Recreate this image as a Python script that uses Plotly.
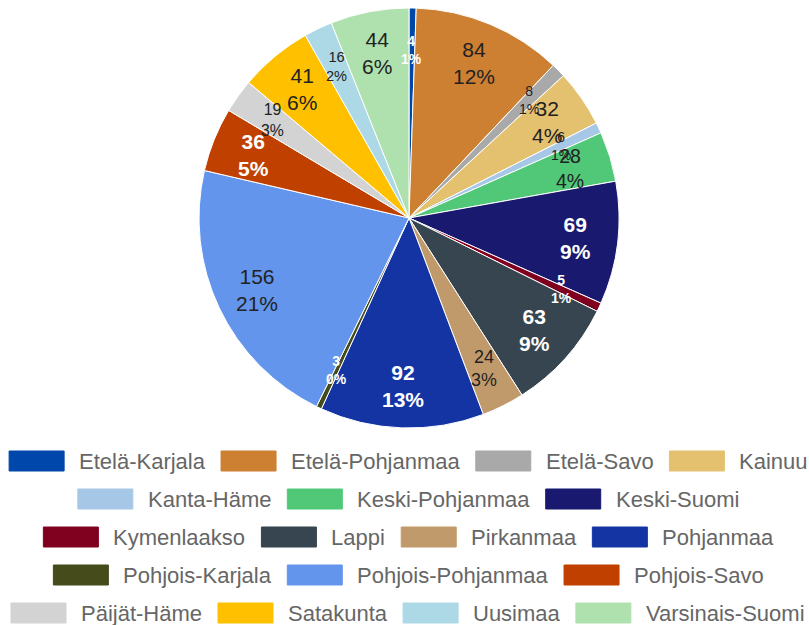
import math
import plotly.graph_objects as go

# ---------------- data ----------------
regions = ["Etelä-Karjala", "Etelä-Pohjanmaa", "Etelä-Savo", "Kainuu", "Kanta-Häme",
           "Keski-Pohjanmaa", "Keski-Suomi", "Kymenlaakso", "Lappi", "Pirkanmaa",
           "Pohjanmaa", "Pohjois-Karjala", "Pohjois-Pohjanmaa", "Pohjois-Savo",
           "Päijät-Häme", "Satakunta", "Uusimaa", "Varsinais-Suomi"]
values = [4, 84, 8, 32, 6, 28, 69, 5, 63, 24, 92, 3, 156, 36, 19, 41, 16, 44]
colors = ["#0047AB", "#CD7F32", "#A9A9A9", "#E4C16F", "#A7C7E7", "#50C878", "#191970",
          "#800020", "#36454F", "#C19A6B", "#1434A4", "#454B1B", "#6495ED", "#C04000",
          "#D3D3D3", "#FFC000", "#ADD8E6", "#AFE1AF"]

# ---------------- geometry ----------------
W, H = 809, 625
CX, CY, R = 409, 218, 210
LABEL_R = 0.8

fig = go.Figure(go.Pie(
    labels=regions, values=values, sort=False, direction="clockwise", rotation=0,
    marker=dict(colors=colors, line=dict(color="white", width=1)),
    textinfo="none", hoverinfo="label+value+percent", showlegend=False,
    domain=dict(x=[(CX - R) / W, (CX + R) / W], y=[1 - (CY + R) / H, 1 - (CY - R) / H]),
))


def is_dark(hexc):
    r, g, b = int(hexc[1:3], 16), int(hexc[3:5], 16), int(hexc[5:7], 16)
    return (0.299 * r + 0.587 * g + 0.114 * b) < 110


annotations = []
shapes = []
total = sum(values)
cum = 0
for name, v, c in zip(regions, values, colors):
    frac = v / total
    mid = (cum + v / 2) / total * 2 * math.pi
    cum += v
    px = CX + LABEL_R * R * math.sin(mid)
    py = CY - LABEL_R * R * math.cos(mid)
    size = max(14, min(21, 8 + 300 * frac))
    dark = is_dark(c)
    txt = f"{v}<br>{round(frac * 100)}%"
    if dark:
        txt = f"<b>{v}</b><br><b>{round(frac * 100)}%</b>"
    annotations.append(dict(
        x=px / W, y=1 - py / H, xref="paper", yref="paper", text=txt, showarrow=False,
        xanchor="center", yanchor="middle", align="center",
        font=dict(family="Arial, Liberation Sans", size=size, color="white" if dark else "#222"),
    ))

# ---------------- custom centered legend ----------------
AW = {' ': 278, '-': 333, 'E': 667, 'K': 667, 'S': 667, 'P': 667, 'L': 556, 'U': 722,
      'V': 667, 'H': 722, 'a': 556, 'e': 556, 'h': 556, 'i': 222, 'j': 222, 'k': 500,
      'l': 222, 'm': 833, 'n': 556, 'o': 556, 'p': 556, 'r': 333, 's': 500, 't': 278,
      'u': 556, 'v': 500, 'y': 500, 'ä': 556, 'ö': 556}
LFS = 22
BOX_W, BOX_H, GAP_T, GAP_I = 55, 20, 13, 18


def tw(s):
    return sum(AW.get(ch, 556) for ch in s) / 1000 * LFS


items = [(n, c, BOX_W + GAP_T + tw(n)) for n, c in zip(regions, colors)]
rows, cur, cw = [], [], 0
for it in items:
    add = it[2] + (GAP_I if cur else 0)
    if cur and cw + add > 800:
        rows.append(cur)
        cur, cw = [], 0
        add = it[2]
    cur.append(it)
    cw += add
if cur:
    rows.append(cur)

ROW0, ROWSTEP = 461, 38
for ri, row in enumerate(rows):
    rw = sum(it[2] for it in row) + GAP_I * (len(row) - 1)
    x = (W - rw) / 2 + 3
    yc = ROW0 + ri * ROWSTEP
    for n, c, w in row:
        shapes.append(dict(type="rect", xref="paper", yref="paper",
                           x0=x / W, x1=(x + BOX_W) / W,
                           y0=1 - (yc + BOX_H / 2) / H, y1=1 - (yc - BOX_H / 2) / H,
                           fillcolor=c, line=dict(color=c, width=1), opacity=1))
        annotations.append(dict(x=(x + BOX_W + GAP_T) / W, y=1 - yc / H, xref="paper", yref="paper",
                                text=n, showarrow=False, xanchor="left", yanchor="middle",
                                font=dict(family="Arial, Liberation Sans", size=LFS, color="#666")))
        x += w + GAP_I

fig.update_layout(
    width=W, height=H, margin=dict(l=0, r=0, t=0, b=0),
    paper_bgcolor="white", plot_bgcolor="white",
    annotations=annotations, shapes=shapes, showlegend=False,
)
fig.write_html("out.html", config={"displayModeBar": False},
               post_script="document.body.style.margin='0';document.body.style.overflow='hidden';")
